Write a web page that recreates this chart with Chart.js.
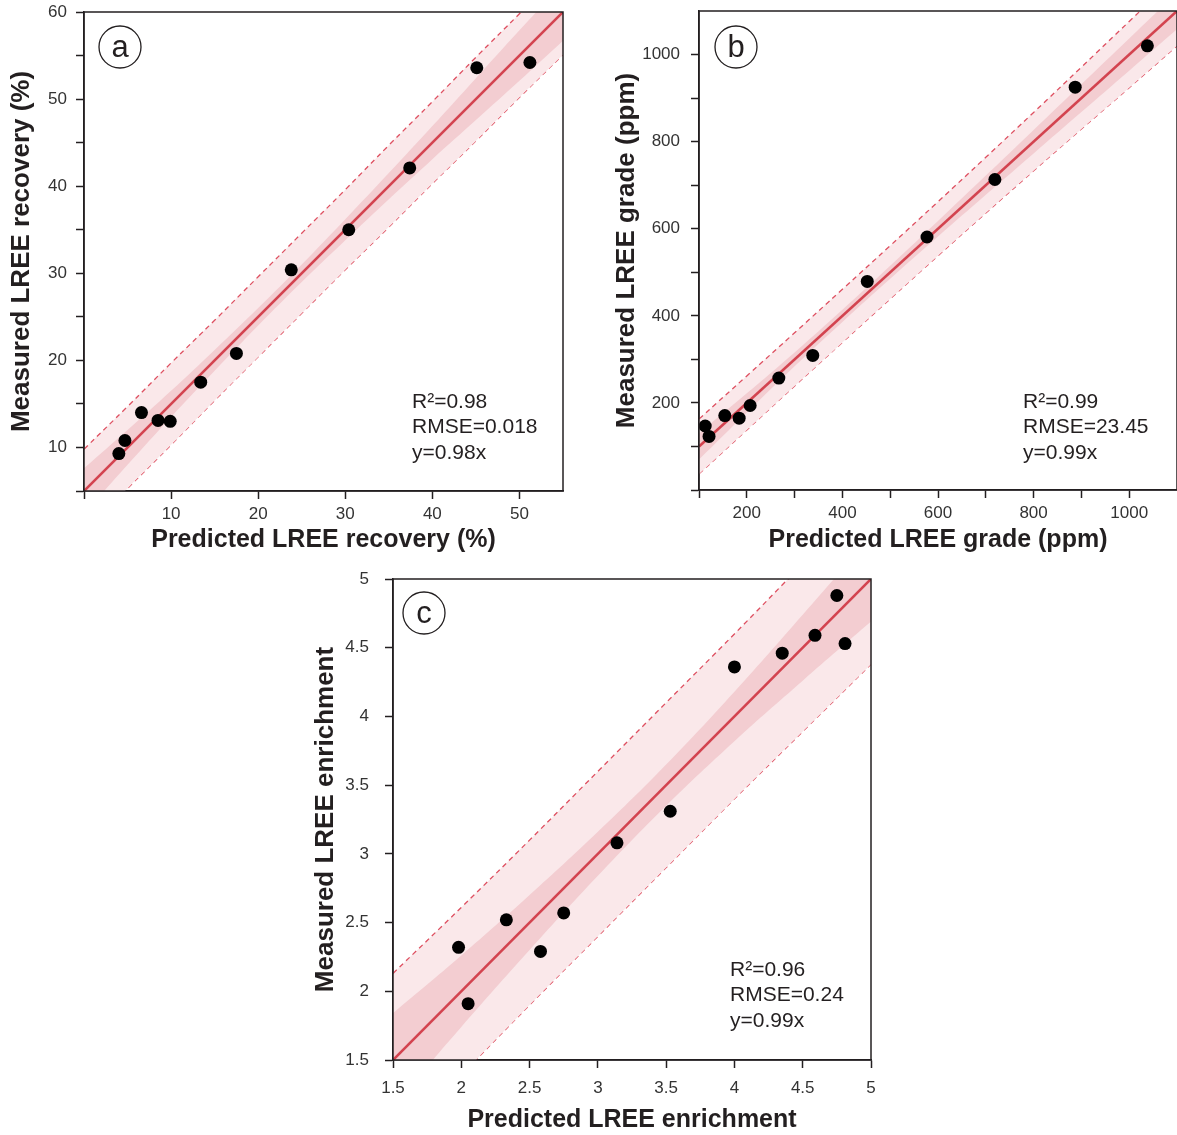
<!DOCTYPE html>
<html>
<head>
<meta charset="utf-8">
<script src="https://cdn.jsdelivr.net/npm/chart.js@4.4.1/dist/chart.umd.min.js"></script>
<style>
  body { margin: 0; background: #fff; width: 1177px; height: 1135px; position: relative; overflow: hidden; }
  canvas { position: absolute; }
</style>
</head>
<body>
<canvas id="chartA" width="585" height="560" style="left:0;top:0"></canvas>
<canvas id="chartB" width="587" height="560" style="left:590px;top:0"></canvas>
<canvas id="chartC" width="600" height="575" style="left:300px;top:560px"></canvas>
<script>
// (a) LREE recovery, %
const recPredicted = [4.0, 4.7, 6.6, 8.5, 9.9, 13.4, 17.5, 23.8, 30.4, 37.4, 45.1, 51.2];
const recMeasured  = [9.3, 10.8, 14.0, 13.1, 13.0, 17.5, 20.8, 30.4, 35.0, 42.1, 53.6, 54.2];
const recFitX = [0, 55];
const recFitY = [5, 60];
const recBandX  = [0, 5, 10, 15, 20, 25, 30, 35, 40, 45, 50, 55];
const recConfHi = [7.6, 12.0, 16.5, 21.2, 26.0, 31.0, 36.2, 41.5, 46.9, 52.4, 57.9, 63.3];
const recConfLo = [2.4, 8.0, 13.5, 18.8, 24.0, 29.0, 33.8, 38.5, 43.1, 47.6, 52.1, 56.7];
const recPredHi = [9.8, 14.7, 19.7, 24.6, 29.6, 34.6, 39.6, 44.7, 49.7, 54.8, 59.8, 64.9];
const recPredLo = [0.2, 5.3, 10.3, 15.4, 20.4, 25.4, 30.4, 35.3, 40.3, 45.2, 50.2, 55.1];
const recXTicks  = [0, 10, 20, 30, 40, 50];
const recXLabels = ['', '10', '20', '30', '40', '50'];
const recYTicks  = [5, 10, 15, 20, 25, 30, 35, 40, 45, 50, 55, 60];
const recYLabels = ['', '10', '', '20', '', '30', '', '40', '', '50', '', '60'];

// (b) LREE grade, ppm
const gradePredicted = [113, 121, 154, 184, 207, 267, 338, 452, 577, 719, 887, 1038];
const gradeMeasured  = [147, 123, 171, 165, 194, 257, 309, 479, 581, 713, 925, 1020];
const gradeFitX = [100, 1100];
const gradeFitY = [100, 1100];
const gradeBandX  = [100, 200, 300, 400, 500, 600, 700, 800, 900, 1000, 1100];
const gradeConfHi = [130, 222, 316, 414, 515, 618, 722, 827, 932, 1037, 1142];
const gradeConfLo = [70, 178, 284, 386, 485, 582, 678, 773, 868, 963, 1058];
const gradePredHi = [163, 262, 361, 461, 561, 662, 764, 867, 971, 1076, 1180];
const gradePredLo = [37, 138, 239, 339, 439, 538, 636, 733, 829, 924, 1020];
const gradeXTicks  = [100, 200, 300, 400, 500, 600, 700, 800, 900, 1000];
const gradeXLabels = ['', '200', '', '400', '', '600', '', '800', '', '1000'];
const gradeYTicks  = [0, 100, 200, 300, 400, 500, 600, 700, 800, 900, 1000];
const gradeYLabels = ['', '', '200', '', '400', '', '600', '', '800', '', '1000'];

// (c) LREE enrichment
const enrPredicted = [1.98, 2.05, 2.33, 2.58, 2.75, 3.14, 3.53, 4.00, 4.35, 4.59, 4.75, 4.81];
const enrMeasured  = [2.32, 1.91, 2.52, 2.29, 2.57, 3.08, 3.31, 4.36, 4.46, 4.59, 4.88, 4.53];
const enrFitX = [1.5, 5];
const enrFitY = [1.5, 5];
const enrBandX  = [1.5, 2, 2.5, 3, 3.5, 4, 4.5, 5];
const enrConfHi = [1.84, 2.26, 2.70, 3.16, 3.65, 4.18, 4.74, 5.31];
const enrConfLo = [1.16, 1.74, 2.30, 2.84, 3.35, 3.82, 4.26, 4.69];
const enrPredHi = [2.13, 2.61, 3.10, 3.60, 4.10, 4.60, 5.11, 5.62];
const enrPredLo = [0.87, 1.39, 1.90, 2.40, 2.90, 3.40, 3.89, 4.38];
const enrTicks  = [1.5, 2, 2.5, 3, 3.5, 4, 4.5, 5];
const enrLabels = ['1.5', '2', '2.5', '3', '3.5', '4', '4.5', '5'];

const INK = '#231f20';
const RED = '#d3434f';
const DASH = '#de5061';
const PRED_FILL = '#fae8ea';
const CONF_FILL = '#f3cdd1';

Chart.defaults.font.family = '"Liberation Sans", Arial, sans-serif';

const pairs = (xs, ys) => xs.map((x, i) => ({ x: x, y: ys[i] }));

// frame, circled panel letter and fit stats
const panelDecor = {
  id: 'panelDecor',
  afterDatasetsDraw(chart, args, opts) {
    const { ctx, chartArea: a } = chart;
    ctx.save();
    ctx.strokeStyle = INK;
    ctx.lineWidth = 1.5;
    ctx.strokeRect(a.left, a.top, a.right - a.left, a.bottom - a.top);

    const cx = a.left + opts.dx, cy = a.top + opts.dy;
    ctx.beginPath();
    ctx.arc(cx, cy, 21, 0, Math.PI * 2);
    ctx.lineWidth = 1.3;
    ctx.stroke();
    ctx.fillStyle = INK;
    ctx.font = '31px "Liberation Sans", Arial, sans-serif';
    ctx.textAlign = 'center';
    ctx.textBaseline = 'middle';
    ctx.fillText(opts.letter, cx, cy + 1);

    ctx.font = '21px "Liberation Sans", Arial, sans-serif';
    ctx.textAlign = 'left';
    opts.stats.forEach((t, i) => ctx.fillText(t, a.left + opts.sx, a.top + opts.sy + i * 25.5));
    ctx.restore();
  }
};

function makeAxis(p, horizontal) {
  return {
    type: 'linear',
    min: p.min,
    max: p.max,
    afterBuildTicks: s => { s.ticks = p.ticks.map(v => ({ value: v })); },
    afterFit: s => {
      if (horizontal) { s.height = p.size; s.paddingLeft = 0; s.paddingRight = 0; }
      else { s.width = p.size; s.paddingTop = 0; s.paddingBottom = 0; }
    },
    ticks: {
      callback: (v, i) => p.labels[i],
      padding: p.tickPad,
      color: '#333',
      font: { size: 17 },
      autoSkip: false,
      maxRotation: 0
    },
    grid: { drawOnChartArea: false, tickLength: 8, tickWidth: 1.5, tickColor: INK },
    border: { color: INK, width: 1.5 },
    title: {
      display: true,
      text: p.title,
      color: INK,
      font: { size: p.titleSize, weight: 'bold' },
      padding: horizontal ? { top: 0, bottom: p.titlePad } : { top: p.titlePad, bottom: 0 }
    }
  };
}

function makePanel(id, d) {
  new Chart(document.getElementById(id), {
    type: 'scatter',
    data: {
      datasets: [
        { data: pairs(d.px, d.py), order: 0, pointRadius: 6.5, backgroundColor: '#000', borderWidth: 0 },
        { data: pairs(d.fitX, d.fitY), order: 1, showLine: true, pointRadius: 0, borderColor: RED, borderWidth: 2.6 },
        { data: pairs(d.bandX, d.confHi), order: 3, showLine: true, pointRadius: 0, borderWidth: 0, tension: 0.4,
          fill: '+1', backgroundColor: CONF_FILL },
        { data: pairs(d.bandX, d.confLo), order: 3, showLine: true, pointRadius: 0, borderWidth: 0, tension: 0.4 },
        { data: pairs(d.bandX, d.predHi), order: 4, showLine: true, pointRadius: 0, borderWidth: 1.3, tension: 0.4,
          borderColor: DASH, borderDash: [5, 4], fill: '+1', backgroundColor: PRED_FILL },
        { data: pairs(d.bandX, d.predLo), order: 4, showLine: true, pointRadius: 0, borderWidth: 1.3, tension: 0.4,
          borderColor: DASH, borderDash: [5, 4] }
      ]
    },
    options: {
      responsive: false,
      animation: false,
      events: [],
      devicePixelRatio: 1,
      layout: { padding: d.padding, autoPadding: false },
      scales: { x: makeAxis(d.x, true), y: makeAxis(d.y, false) },
      plugins: {
        legend: { display: false },
        tooltip: { enabled: false },
        panelDecor: d.decor
      }
    },
    plugins: [panelDecor]
  });
}

makePanel('chartA', {
  px: recPredicted, py: recMeasured, fitX: recFitX, fitY: recFitY,
  bandX: recBandX, confHi: recConfHi, confLo: recConfLo, predHi: recPredHi, predLo: recPredLo,
  padding: { top: 12, right: 22, left: 0, bottom: 0 },
  x: { min: 0, max: 55, ticks: recXTicks, labels: recXLabels, size: 69, tickPad: 5,
       title: 'Predicted LREE recovery (%)', titleSize: 25, titlePad: 5 },
  y: { min: 5, max: 60, ticks: recYTicks, labels: recYLabels, size: 84, tickPad: 9,
       title: 'Measured LREE recovery (%)', titleSize: 26, titlePad: 6 },
  decor: { letter: 'a', dx: 36, dy: 35, sx: 328, sy: 390, stats: ['R²=0.98', 'RMSE=0.018', 'y=0.98x'] }
});

makePanel('chartB', {
  px: gradePredicted, py: gradeMeasured, fitX: gradeFitX, fitY: gradeFitY,
  bandX: gradeBandX, confHi: gradeConfHi, confLo: gradeConfLo, predHi: gradePredHi, predLo: gradePredLo,
  padding: { top: 11, right: 0, left: 0, bottom: 0 },
  x: { min: 100, max: 1100, ticks: gradeXTicks, labels: gradeXLabels, size: 70, tickPad: 5,
       title: 'Predicted LREE grade (ppm)', titleSize: 25, titlePad: 5 },
  y: { min: 0, max: 1100, ticks: gradeYTicks, labels: gradeYLabels, size: 109, tickPad: 11,
       title: 'Measured LREE grade (ppm)', titleSize: 26, titlePad: 21 },
  decor: { letter: 'b', dx: 37, dy: 36, sx: 324, sy: 391, stats: ['R²=0.99', 'RMSE=23.45', 'y=0.99x'] }
});

makePanel('chartC', {
  px: enrPredicted, py: enrMeasured, fitX: enrFitX, fitY: enrFitY,
  bandX: enrBandX, confHi: enrConfHi, confLo: enrConfLo, predHi: enrPredHi, predLo: enrPredLo,
  padding: { top: 19, right: 29, left: 0, bottom: 0 },
  x: { min: 1.5, max: 5, ticks: enrTicks, labels: enrLabels, size: 75, tickPad: 10,
       title: 'Predicted LREE enrichment', titleSize: 25, titlePad: 0 },
  y: { min: 1.5, max: 5, ticks: enrTicks, labels: enrLabels, size: 93, tickPad: 16,
       title: 'Measured LREE enrichment', titleSize: 26, titlePad: 10 },
  decor: { letter: 'c', dx: 31, dy: 34, sx: 337, sy: 391, stats: ['R²=0.96', 'RMSE=0.24', 'y=0.99x'] }
});
</script>
</body>
</html>
